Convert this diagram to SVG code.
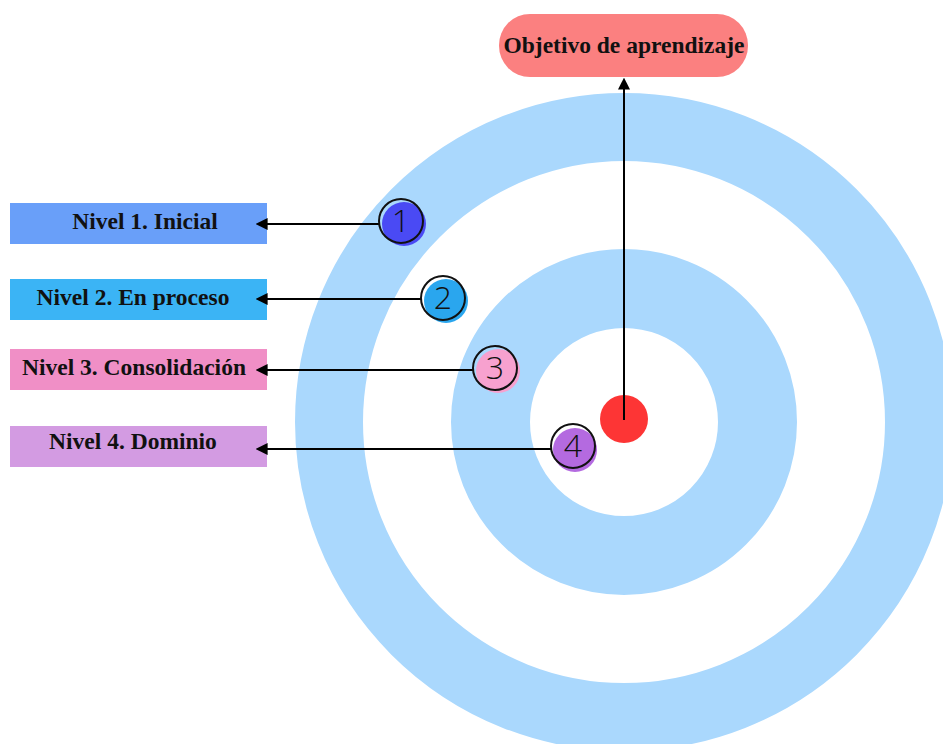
<svg xmlns="http://www.w3.org/2000/svg" width="943" height="744" viewBox="0 0 943 744">
<style>
.ring{fill:none;stroke:#aad8fd}
.box{stroke:none}
.lbl{font-family:"Liberation Serif",serif;font-weight:bold;font-size:23.5px;fill:#111;text-anchor:middle}
.digit{font-family:"Open Sans",sans-serif;font-weight:300;font-size:32px;fill:#111;text-anchor:middle}
.conn{stroke:#000;stroke-width:2;fill:none;marker-end:url(#ah)}
</style>
<defs>
<marker id="ah" viewBox="0 0 10 10" refX="8" refY="5" markerWidth="6" markerHeight="6" orient="auto-start-reverse">
<path d="M0,0 L10,5 L0,10 z" fill="#000"/>
</marker>
</defs>
<rect width="943" height="744" fill="#fff"/>
<g id="target">
<circle class="ring" cx="624" cy="422" r="295" stroke-width="68"/>
<circle class="ring" cx="624" cy="422" r="133.5" stroke-width="79"/>
</g>
<g id="center">
<circle cx="624" cy="419" r="24" fill="#fd3535"/>
</g>
<g id="goal">
<rect x="499" y="14" width="249" height="63" rx="31" fill="#fb8080"/>
<text class="lbl" x="624" y="53">Objetivo de aprendizaje</text>
</g>
<g id="nivel1">
<rect class="box" x="10" y="203" width="257" height="41" fill="#699ff9"/>
<text class="lbl" x="145" y="229">Nivel 1. Inicial</text>
</g>
<g id="nivel2">
<rect class="box" x="10" y="279" width="257" height="41" fill="#3bb4f5"/>
<text class="lbl" x="133" y="305">Nivel 2. En proceso</text>
</g>
<g id="nivel3">
<rect class="box" x="10" y="349" width="257" height="41" fill="#f08fc6"/>
<text class="lbl" x="134" y="375">Nivel 3. Consolidación</text>
</g>
<g id="nivel4">
<rect class="box" x="10" y="426" width="257" height="41" fill="#d39be2"/>
<text class="lbl" x="133" y="449">Nivel 4. Dominio</text>
</g>
<g id="connectors">
<line class="conn" x1="624" y1="420" x2="624" y2="80"/>
<line class="conn" x1="380" y1="224" x2="258" y2="224"/>
<line class="conn" x1="422" y1="299" x2="258" y2="299"/>
<line class="conn" x1="474" y1="370" x2="258" y2="370"/>
<line class="conn" x1="551" y1="449" x2="258" y2="449"/>
</g>
<g id="badge1">
<circle cx="404" cy="224" r="22" fill="#4a4af4"/>
<circle cx="401" cy="221" r="22" fill="none" stroke="#111" stroke-width="2"/>
<text class="digit" x="401" y="232">1</text>
</g>
<g id="badge2">
<circle cx="446" cy="301" r="22" fill="#2aa6ee"/>
<circle cx="443" cy="298" r="22" fill="none" stroke="#111" stroke-width="2"/>
<text class="digit" x="443" y="309">2</text>
</g>
<g id="badge3">
<circle cx="498" cy="371" r="22" fill="#f7a1cf"/>
<circle cx="495" cy="368" r="22" fill="none" stroke="#111" stroke-width="2"/>
<text class="digit" x="495" y="379">3</text>
</g>
<g id="badge4">
<circle cx="575" cy="450" r="22" fill="#b46ae0"/>
<circle cx="573" cy="446" r="22" fill="none" stroke="#111" stroke-width="2"/>
<text class="digit" x="573" y="457">4</text>
</g>
</svg>
